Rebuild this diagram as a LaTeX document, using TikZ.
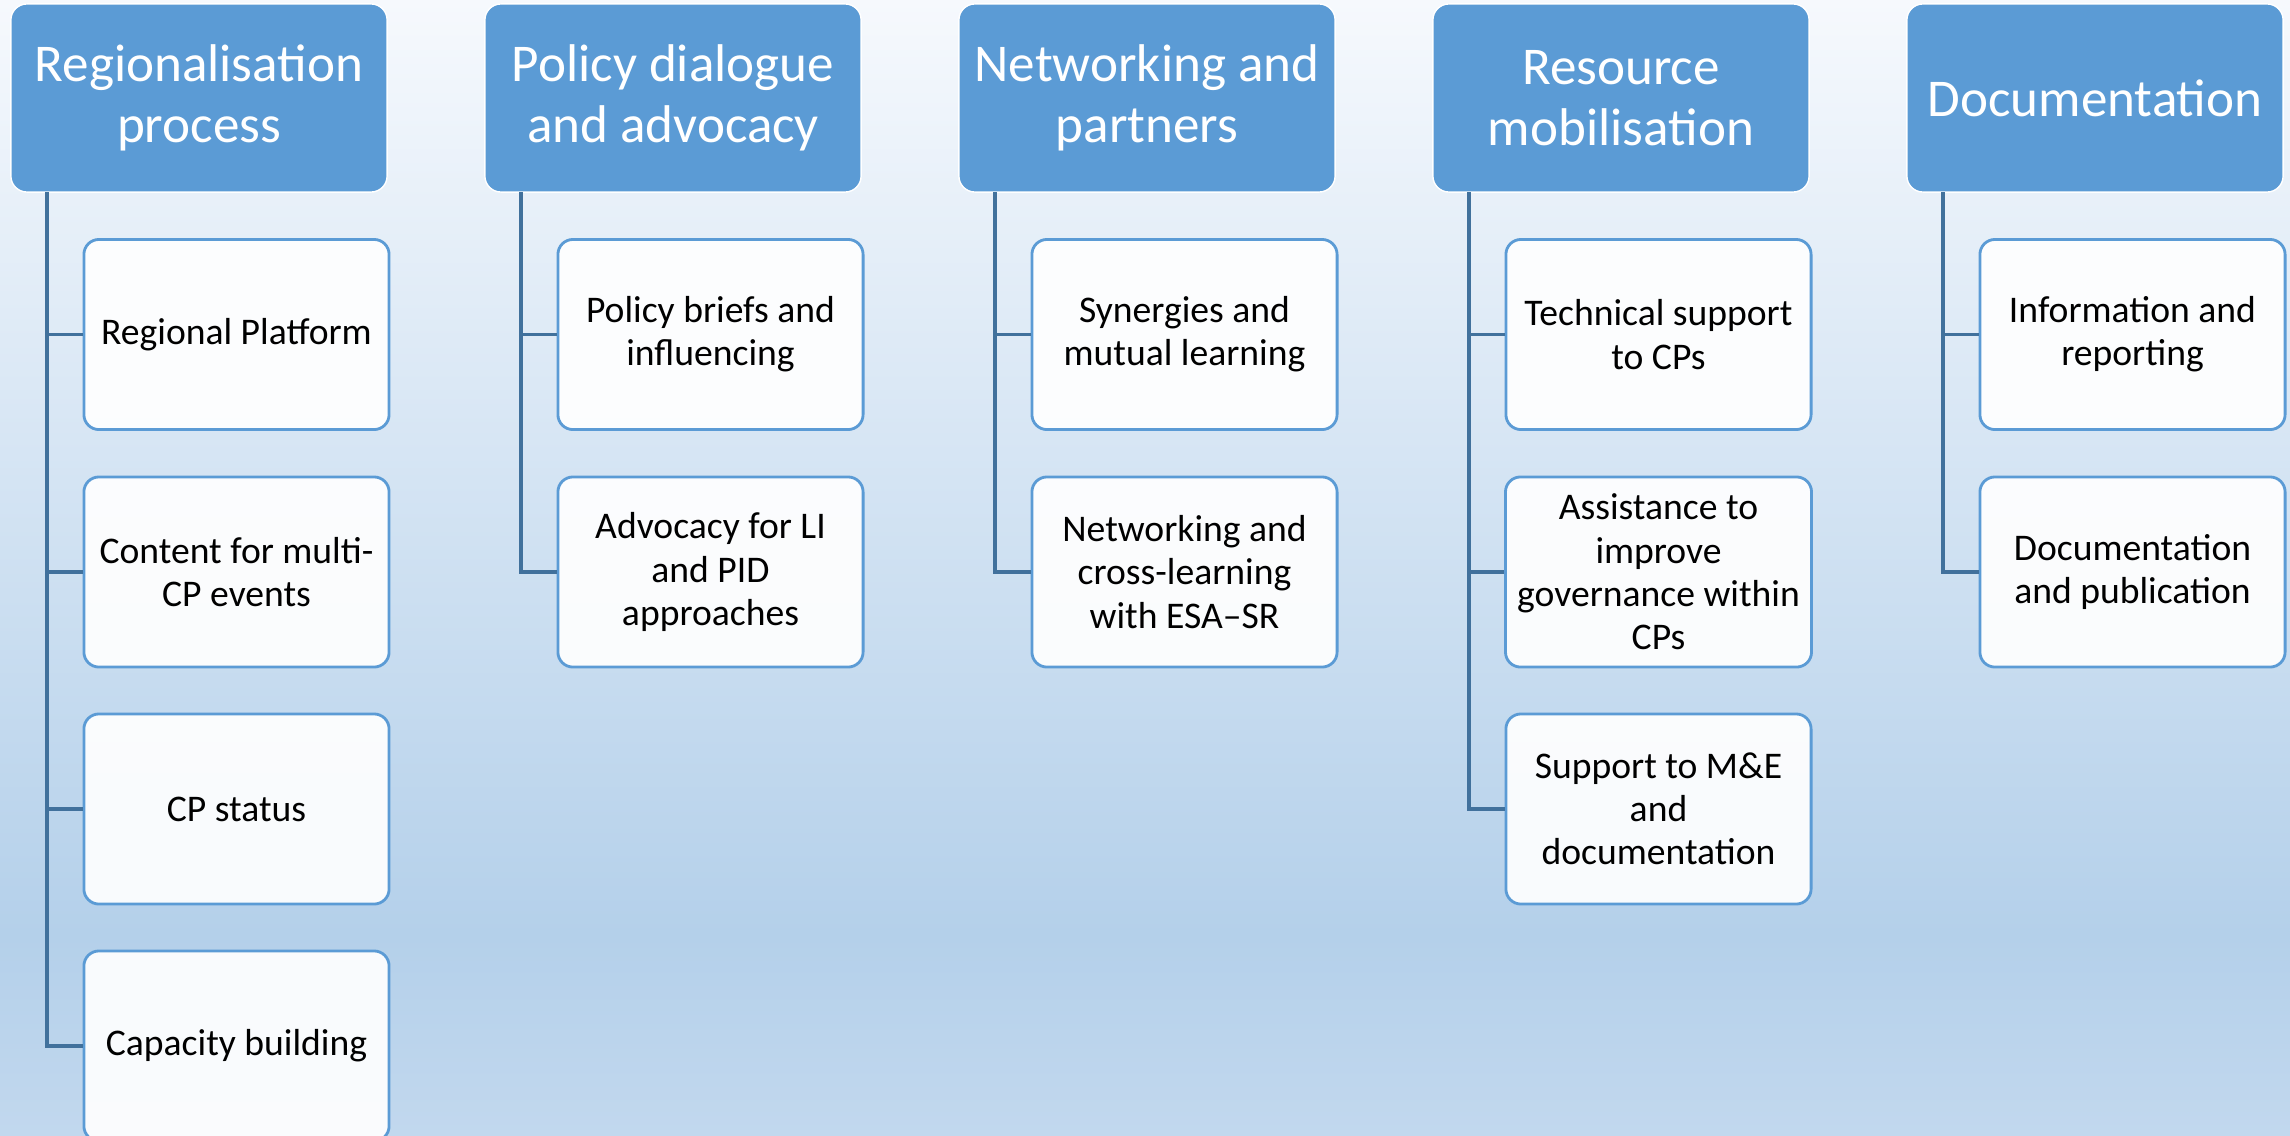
\documentclass[tikz,border=0pt]{standalone}
\usepackage{fontspec}
\setmainfont{Carlito}
\definecolor{headblue}{HTML}{5B9BD5}
\definecolor{linkblue}{HTML}{41719C}
\definecolor{bgtop}{HTML}{F6F9FD}
\definecolor{bgmid}{HTML}{B4D0EA}
\definecolor{bgbot}{HTML}{C2D8EE}
\tikzset{
  headbox/.style = {draw=white, line width=0.4pt, fill=headblue, rounded corners=0.16cm,
    minimum width=3.76cm, minimum height=1.88cm, align=center, text=white,
    font=\fontsize{15.1}{17.2}\selectfont},
  itembox/.style = {draw=headblue, line width=0.8pt, fill=white, fill opacity=0.92, text opacity=1,
    rounded corners=0.15cm, minimum width=3.05cm, minimum height=1.9cm, align=center,
    font=\fontsize{10.7}{12.3}\selectfont},
  link/.style = {draw=linkblue, line width=1pt}
}
\begin{document}
\begin{tikzpicture}[x=0.01cm, y=-0.01cm]
                \useasboundingbox (0,0) rectangle (2290,1136);
                \clip (0,0) rectangle (2290,1136);
                % background
                \shade[top color=bgtop, bottom color=bgmid] (0,0) rectangle (2290,935);
                \shade[top color=bgmid, bottom color=bgbot] (0,935) rectangle (2290,1137);
                % headers
                \node[headbox] (h1) at (199,98) {Regionalisation\\process};
                \node[headbox] (h2) at (673,98) {Policy dialogue\\and advocacy};
                \node[headbox] (h3) at (1147,98) {Networking and\\partners};
                \node[headbox] (h4) at (1621,98) {Resource\\mobilisation};
                \node[headbox] (h5) at (2095,98) {Documentation};
                % column 1
                \node[itembox] (c11) at (236.5,334.5) {Regional Platform};
                \node[itembox] (c12) at (236.5,572) {Content for multi-\\CP events};
                \node[itembox] (c13) at (236.5,809) {CP status};
                \node[itembox] (c14) at (236.5,1046) {Capacity building};
                % column 2
                \node[itembox] (c21) at (710.5,334.5) {Policy briefs and\\influencing};
                \node[itembox] (c22) at (710.5,572) {Advocacy for LI\\and PID\\approaches};
                % column 3
                \node[itembox] (c31) at (1184.5,334.5) {Synergies and\\mutual learning};
                \node[itembox] (c32) at (1184.5,572) {Networking and\\cross-learning\\with ESA--SR};
                % column 4
                \node[itembox] (c41) at (1658.5,334.5) {Technical support\\to CPs};
                \node[itembox] (c42) at (1658.5,572) {Assistance to\\improve\\governance within\\CPs};
                \node[itembox] (c43) at (1658.5,809) {Support to M\&E\\and\\documentation};
                % column 5
                \node[itembox] (c51) at (2132.5,334.5) {Information and\\reporting};
                \node[itembox] (c52) at (2132.5,572) {Documentation\\and publication};
                % connectors
                \coordinate (r1) at (47,192);
                \coordinate (r2) at (521,192);
                \coordinate (r3) at (995,192);
                \coordinate (r4) at (1469,192);
                \coordinate (r5) at (1943,192);
                \draw[link] (r1) |- (c14.west);
                \draw[link] (c11.west) -- (c11.west -| r1);
                \draw[link] (c12.west) -- (c12.west -| r1);
                \draw[link] (c13.west) -- (c13.west -| r1);
                \draw[link] (r2) |- (c22.west);
                \draw[link] (c21.west) -- (c21.west -| r2);
                \draw[link] (r3) |- (c32.west);
                \draw[link] (c31.west) -- (c31.west -| r3);
                \draw[link] (r4) |- (c43.west);
                \draw[link] (c41.west) -- (c41.west -| r4);
                \draw[link] (c42.west) -- (c42.west -| r4);
                \draw[link] (r5) |- (c52.west);
                \draw[link] (c51.west) -- (c51.west -| r5);
            \end{tikzpicture}
\end{document}
